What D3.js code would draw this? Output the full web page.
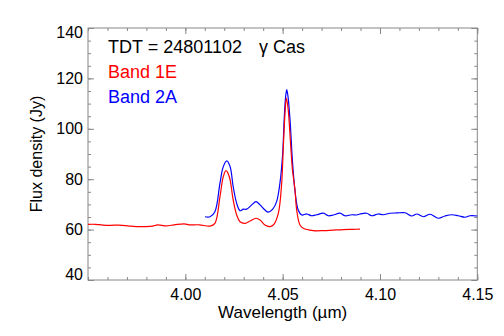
<!DOCTYPE html>
<html>
<head>
<meta charset="utf-8">
<script src="https://cdn.jsdelivr.net/npm/d3@7"></script>
<style>
  body { margin: 0; background: #fff; }
  svg { display: block; font-family: "Liberation Sans", Arial, Helvetica, sans-serif; }
</style>
</head>
<body>
<svg width="504" height="336"></svg>
<script>
// Band 1E spectrum (wavelength um, flux Jy)
const band1E_wl = [3.9500, 3.9541, 3.9576, 3.9618, 3.9661, 3.9712, 3.9747, 3.9798, 3.9832, 3.9858,
  3.9901, 3.9943, 3.9995, 4.0020, 4.0072, 4.0127, 4.0152, 4.0178, 4.0195, 4.0209,
  4.0226, 4.0246, 4.0264, 4.0281, 4.0307, 4.0332, 4.0363, 4.0384, 4.0409, 4.0435,
  4.0456, 4.0478, 4.0495, 4.0503, 4.0512, 4.0519, 4.0528, 4.0540, 4.0550, 4.0563,
  4.0572, 4.0589, 4.0606, 4.0657, 4.0709, 4.0760, 4.0812, 4.0863, 4.0897]
const band1E_flux = [62.1, 62.1, 61.8, 61.7, 61.8, 61.4, 61.2, 61.2, 61.4, 61.9,
  61.5, 61.9, 62.3, 61.9, 61.9, 61.4, 62.5, 73.1, 81.0, 83.4,
  81.0, 71.7, 65.8, 63.1, 62.5, 63.4, 64.5, 63.8, 61.8, 61.2,
  62.2, 66.5, 78.4, 92.0, 106.0, 112.2, 108.0, 95.0, 84.0, 76.0,
  67.8, 61.8, 60.5, 59.6, 59.6, 59.8, 60.0, 60.1, 60.2]

// Band 2A spectrum
const band2A_wl = [4.0101, 4.0127, 4.0152, 4.0178, 4.0195, 4.0213, 4.0230, 4.0246, 4.0264, 4.0281,
  4.0298, 4.0315, 4.0341, 4.0363, 4.0384, 4.0409, 4.0426, 4.0449, 4.0469, 4.0486,
  4.0500, 4.0508, 4.0515, 4.0521, 4.0528, 4.0538, 4.0550, 4.0563, 4.0580, 4.0598,
  4.0624, 4.0649, 4.0675, 4.0709, 4.0735, 4.0760, 4.0795, 4.0820, 4.0855, 4.0880,
  4.0897, 4.0932, 4.0957, 4.0991, 4.1017, 4.1051, 4.1087, 4.1129, 4.1163, 4.1189,
  4.1223, 4.1257, 4.1300, 4.1334, 4.1369, 4.1402, 4.1437, 4.1462, 4.1500]
const band2A_flux = [65.1, 65.1, 67.1, 78.4, 85.0, 87.3, 85.0, 77.0, 70.4, 67.5,
  68.1, 68.1, 69.8, 71.1, 69.8, 67.8, 66.9, 68.1, 71.1, 78.4,
  90.0, 104.0, 112.5, 115.6, 112.5, 103.5, 87.6, 75.7, 67.8, 65.8,
  66.2, 65.5, 65.9, 66.5, 65.5, 65.8, 66.5, 65.5, 65.9, 65.8,
  66.2, 66.5, 65.5, 66.2, 65.9, 66.5, 66.6, 66.7, 65.4, 66.2,
  65.1, 66.1, 64.5, 65.4, 65.9, 65.5, 64.9, 65.5, 65.4]

const xMajor = [4.00, 4.05, 4.10, 4.15]
const xMinor = d3.range(3.95, 4.1501, 0.01)
const yMajor = [40, 60, 80, 100, 120, 140]
const yMinor = d3.range(40, 141, 5)

const svg = d3.select('svg')
const mLeft = 88, mRight = 477.3, mTop = 28, mBottom = 280
const x = d3.scaleLinear().domain([3.95, 4.15]).range([mLeft, mRight])
const y = d3.scaleLinear().domain([40, 140]).range([mBottom, mTop])
const frameColor = '#888'

// minor ticks on all four sides
function minor(axis, tr) {
  svg.append('g').attr('transform', tr)
    .call(axis.tickSize(-3).tickFormat(''))
    .call(g => g.select('.domain').remove())
    .call(g => g.selectAll('line').attr('stroke', frameColor))
}
minor(d3.axisBottom(x).tickValues(xMinor), `translate(0,${mBottom})`)
minor(d3.axisTop(x).tickValues(xMinor), `translate(0,${mTop})`)
minor(d3.axisLeft(y).tickValues(yMinor), `translate(${mLeft},0)`)
minor(d3.axisRight(y).tickValues(yMinor), `translate(${mRight},0)`)

// major ticks
svg.append('g').attr('transform', `translate(0,${mBottom})`)
  .call(d3.axisBottom(x).tickValues(xMajor).tickSize(-6).tickPadding(9).tickFormat(d3.format('.2f')))
svg.append('g').attr('transform', `translate(0,${mTop})`)
  .call(d3.axisTop(x).tickValues(xMajor).tickSize(-6).tickFormat(''))
const yAxis = svg.append('g').attr('transform', `translate(${mLeft},0)`)
  .call(d3.axisLeft(y).tickValues(yMajor).tickSize(-6).tickPadding(5))
svg.append('g').attr('transform', `translate(${mRight},0)`)
  .call(d3.axisRight(y).tickValues(yMajor).tickSize(-6).tickFormat(''))

svg.selectAll('.domain').remove()
svg.selectAll('.tick line').attr('stroke', frameColor)
svg.selectAll('.tick text').attr('font-size', 16).attr('fill', '#000')
  .attr('font-family', '"Liberation Sans", Arial, sans-serif')
// end labels of the y axis sit a little inside the frame
yAxis.selectAll('.tick').filter(d => d === 140).select('text').attr('dy', '0.57em')
yAxis.selectAll('.tick').filter(d => d === 40).select('text').attr('dy', '-0.05em')

// frame
svg.append('rect')
  .attr('x', mLeft).attr('y', mTop)
  .attr('width', mRight - mLeft).attr('height', mBottom - mTop)
  .attr('fill', 'none').attr('stroke', frameColor).attr('stroke-width', 1)

// spectra
const line = d3.line().x(d => x(d[0])).y(d => y(d[1])).curve(d3.curveCatmullRom.alpha(0.5))
svg.append('path')
  .datum(d3.zip(band2A_wl, band2A_flux))
  .attr('d', line).attr('fill', 'none').attr('stroke', '#0000ff').attr('stroke-width', 1.2)
svg.append('path')
  .datum(d3.zip(band1E_wl, band1E_flux))
  .attr('d', line).attr('fill', 'none').attr('stroke', '#ff0000').attr('stroke-width', 1.2)

// annotations
svg.append('text').attr('x', 108).attr('y', 53).attr('font-size', 18).text('TDT = 24801102')
svg.append('text').attr('x', 259).attr('y', 53).attr('font-size', 18).text('γ Cas')
svg.append('text').attr('x', 108).attr('y', 78).attr('font-size', 18).attr('fill', '#ff0000').text('Band 1E')
svg.append('text').attr('x', 108).attr('y', 103).attr('font-size', 18).attr('fill', '#0000ff').text('Band 2A')

// axis titles
svg.append('text').attr('x', (mLeft + mRight) / 2).attr('y', 318)
  .attr('text-anchor', 'middle').attr('font-size', 17).text('Wavelength (µm)')
svg.append('text')
  .attr('transform', `translate(42,${(mTop + mBottom) / 2}) rotate(-90)`)
  .attr('text-anchor', 'middle').attr('font-size', 16).text('Flux density (Jy)')
</script>
</body>
</html>
